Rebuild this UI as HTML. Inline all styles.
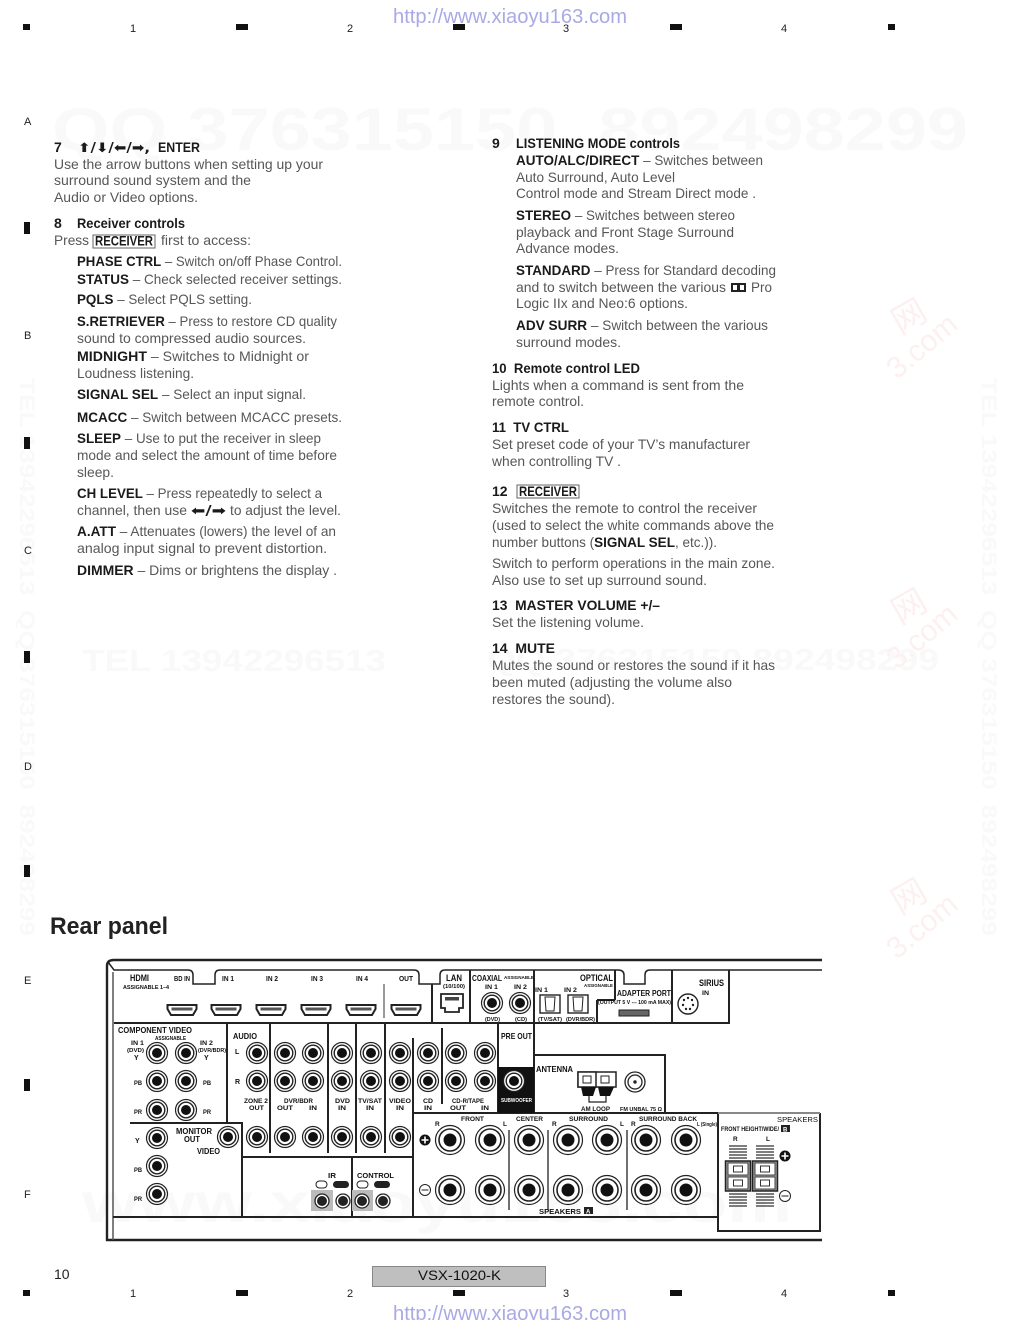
<!DOCTYPE html>
<html><head><meta charset="utf-8"><style>
html,body{margin:0;padding:0;background:#fff}
svg{display:block}
text{font-family:"Liberation Sans",sans-serif}
.t text{font-size:14px;fill:#575757}
.t tspan{font-weight:bold;fill:#1a1a1a}
.t .h{font-weight:bold;fill:#1a1a1a}
.w text{font-weight:bold;fill:#f9f9f9}
.r text{fill:#fdf0f0;font-weight:normal}
.m text{font-size:11px;fill:#222}
.p text{font-weight:bold;font-size:8px;fill:#111}
.l{stroke:#222;stroke-width:2;fill:none}
</style></head><body>
<svg xmlns="http://www.w3.org/2000/svg" width="1020" height="1320" viewBox="0 0 1020 1320">
<defs>
<g id="j"><circle r="10.500" fill="#fff" stroke="#222" stroke-width="1.200"/><circle r="7.800" fill="#fff" stroke="#222" stroke-width="1.400"/><circle r="5" fill="#111"/></g>
<g id="s"><circle r="14.500" fill="#fff" stroke="#222" stroke-width="1.200"/><circle r="11" fill="#fff" stroke="#222" stroke-width="1.600"/><circle r="6.500" fill="#111"/></g>
<g id="d"><circle r="7" fill="#fff" stroke="#222" stroke-width="1.300"/><circle r="5" fill="#222"/></g>
<g id="h"><path d="M-14.500-5H14.500V-1L11 5H-11L-14.500-1Z" fill="#fff" stroke="#222" stroke-width="2"/><rect x="-10.500" y="-2.500" width="21" height="3" fill="#555"/></g>
<g id="o"><rect x="-10" y="-9" width="20" height="18" fill="#fff" stroke="#222" stroke-width="1.400"/><path d="M-5-7H5L4 7H-4Z" fill="none" stroke="#222"/></g>
<g id="k">
<path d="M-9-30H9M-9-27H9M-9-24H9M-9-21H9M-9-18H9M-9 18H9M-9 21H9M-9 24H9M-9 27H9M-9 30H9" stroke="#333" stroke-width="1.300"/>
<rect x="-12.500" y="-15" width="25" height="30" fill="#999" stroke="#222" stroke-width="1.500"/>
<path d="M-10-13H10V-1H-10ZM-10 1H10V13H-10Z" fill="#fff" stroke="#444"/><rect x="-4.500" y="-10" width="9" height="6" fill="#fff" stroke="#333"/><rect x="-4.500" y="4" width="9" height="6" fill="#fff" stroke="#333"/></g>
</defs>

<g class="w">
<text x="52" y="150" font-size="60" textLength="916" lengthAdjust="spacingAndGlyphs">QQ 376315150&#160;&#160;892498299</text>
<text x="82" y="671" font-size="31" textLength="304" lengthAdjust="spacingAndGlyphs">TEL 13942296513</text>
<text x="487" y="670" font-size="31" textLength="452" lengthAdjust="spacingAndGlyphs">QQ 376315150&#160;892498299</text>
<text x="82" y="1222" font-size="56" textLength="710" lengthAdjust="spacingAndGlyphs">www.xiaoyu163.com</text>
<text transform="translate(982,378) rotate(90)" font-size="21" textLength="558" lengthAdjust="spacingAndGlyphs">TEL 13942296513&#160;&#160;QQ 376315150&#160;&#160;892498299</text>
<text transform="translate(20,378) rotate(90)" font-size="21" textLength="558" lengthAdjust="spacingAndGlyphs">TEL 13942296513&#160;&#160;QQ 376315150&#160;&#160;892498299</text>
</g>
<g class="r">
<g transform="translate(897,380) rotate(-40)"><text font-size="30" x="0" y="0">3.com</text></g><g transform="translate(900,335) rotate(-30)"><text font-size="34" x="0" y="0" style="font-family:'Noto Sans CJK SC',sans-serif">网</text></g>
<g transform="translate(897,670) rotate(-40)"><text font-size="30" x="0" y="0">3.com</text></g><g transform="translate(900,625) rotate(-30)"><text font-size="34" x="0" y="0" style="font-family:'Noto Sans CJK SC',sans-serif">网</text></g>
<g transform="translate(897,960) rotate(-40)"><text font-size="30" x="0" y="0">3.com</text></g><g transform="translate(900,915) rotate(-30)"><text font-size="34" x="0" y="0" style="font-family:'Noto Sans CJK SC',sans-serif">网</text></g>
</g>

<g fill="#111">
<rect x="23" y="24" width="7" height="6"/><rect x="236" y="24" width="12" height="6"/><rect x="453" y="24" width="12" height="6"/><rect x="670" y="24" width="12" height="6"/><rect x="888" y="24" width="7" height="6"/>
<rect x="23" y="1290" width="7" height="6"/><rect x="236" y="1290" width="12" height="6"/><rect x="453" y="1290" width="12" height="6"/><rect x="670" y="1290" width="12" height="6"/><rect x="888" y="1290" width="7" height="6"/>
<rect x="24" y="222" width="6" height="12"/><rect x="24" y="437" width="6" height="12"/><rect x="24" y="651" width="6" height="12"/><rect x="24" y="865" width="6" height="12"/><rect x="24" y="1079" width="6" height="12"/>
</g>
<g class="m">
<text x="130" y="32">1</text><text x="347" y="32">2</text><text x="563" y="32">3</text><text x="781" y="32">4</text>
<text x="130" y="1297">1</text><text x="347" y="1297">2</text><text x="563" y="1297">3</text><text x="781" y="1297">4</text>
<text x="24" y="125">A</text><text x="24" y="339">B</text><text x="24" y="554">C</text><text x="24" y="770">D</text><text x="24" y="984">E</text><text x="24" y="1198">F</text>
</g>
<text x="393" y="23" font-size="20" fill="#a9a9e6" textLength="234" lengthAdjust="spacingAndGlyphs">http://www.xiaoyu163.com</text>
<text x="393" y="1320" font-size="20" fill="#a9a9e6" textLength="234" lengthAdjust="spacingAndGlyphs">http://www.xiaoyu163.com</text>

<g class="t">
<text x="54" y="152" class="h">7</text>
<text x="78" y="152" class="h" style="font-family:'DejaVu Sans',sans-serif;font-size:13px" textLength="72" lengthAdjust="spacingAndGlyphs">⬆/⬇/⬅/➡,</text>
<text x="158" y="152" class="h" textLength="42" lengthAdjust="spacingAndGlyphs">ENTER</text>
<text x="54" y="169" textLength="269" lengthAdjust="spacingAndGlyphs">Use the arrow buttons when setting up your</text>
<text x="54" y="185" textLength="197" lengthAdjust="spacingAndGlyphs">surround sound system and the</text>
<text x="54" y="202" textLength="144" lengthAdjust="spacingAndGlyphs">Audio or Video options.</text>
<text x="54" y="228" class="h">8</text>
<text x="77" y="228" class="h" textLength="108" lengthAdjust="spacingAndGlyphs">Receiver controls</text>
<text x="54" y="245" textLength="35" lengthAdjust="spacingAndGlyphs">Press</text>
<rect x="93" y="235" width="62" height="13" fill="#fff" stroke="#666"/>
<text x="95" y="245.500" class="h" textLength="58" lengthAdjust="spacingAndGlyphs">RECEIVER</text>
<text x="161" y="245" textLength="90" lengthAdjust="spacingAndGlyphs">first to access:</text>

<text x="77" y="266" textLength="265" lengthAdjust="spacingAndGlyphs"><tspan>PHASE CTRL</tspan> – Switch on/off Phase Control.</text>
<text x="77" y="284" textLength="265" lengthAdjust="spacingAndGlyphs"><tspan>STATUS</tspan> – Check selected receiver settings.</text>
<text x="77" y="304" textLength="175" lengthAdjust="spacingAndGlyphs"><tspan>PQLS</tspan> – Select PQLS setting.</text>
<text x="77" y="326" textLength="260" lengthAdjust="spacingAndGlyphs"><tspan>S.RETRIEVER</tspan> – Press to restore CD quality</text>
<text x="77" y="343" textLength="229" lengthAdjust="spacingAndGlyphs">sound to compressed audio sources.</text>
<text x="77" y="361" textLength="232" lengthAdjust="spacingAndGlyphs"><tspan>MIDNIGHT</tspan> – Switches to Midnight or</text>
<text x="77" y="378" textLength="117" lengthAdjust="spacingAndGlyphs">Loudness listening.</text>
<text x="77" y="399" textLength="229" lengthAdjust="spacingAndGlyphs"><tspan>SIGNAL SEL</tspan> – Select an input signal.</text>
<text x="77" y="422" textLength="265" lengthAdjust="spacingAndGlyphs"><tspan>MCACC</tspan> – Switch between MCACC presets.</text>
<text x="77" y="443" textLength="244" lengthAdjust="spacingAndGlyphs"><tspan>SLEEP</tspan> – Use to put the receiver in sleep</text>
<text x="77" y="460" textLength="260" lengthAdjust="spacingAndGlyphs">mode and select the amount of time before</text>
<text x="77" y="477" textLength="37" lengthAdjust="spacingAndGlyphs">sleep.</text>
<text x="77" y="498" textLength="245" lengthAdjust="spacingAndGlyphs"><tspan>CH LEVEL</tspan> – Press repeatedly to select a</text>
<text x="77" y="515" textLength="110" lengthAdjust="spacingAndGlyphs">channel, then use</text>
<text x="191" y="515" class="h" style="font-family:'DejaVu Sans',sans-serif;font-size:13px" textLength="35" lengthAdjust="spacingAndGlyphs">⬅/➡</text>
<text x="230" y="515" textLength="111" lengthAdjust="spacingAndGlyphs">to adjust the level.</text>
<text x="77" y="536" textLength="259" lengthAdjust="spacingAndGlyphs"><tspan>A.ATT</tspan> – Attenuates (lowers) the level of an</text>
<text x="77" y="553" textLength="250" lengthAdjust="spacingAndGlyphs">analog input signal to prevent distortion.</text>
<text x="77" y="575" textLength="260" lengthAdjust="spacingAndGlyphs"><tspan>DIMMER</tspan> – Dims or brightens the display .</text>

<text x="492" y="148" class="h">9</text>
<text x="516" y="148" class="h" textLength="164" lengthAdjust="spacingAndGlyphs">LISTENING MODE controls</text>
<text x="516" y="165" textLength="247" lengthAdjust="spacingAndGlyphs"><tspan>AUTO/ALC/DIRECT</tspan> – Switches between</text>
<text x="516" y="182" textLength="159" lengthAdjust="spacingAndGlyphs">Auto Surround, Auto Level</text>
<text x="516" y="198" textLength="240" lengthAdjust="spacingAndGlyphs">Control mode and Stream Direct mode .</text>
<text x="516" y="220" textLength="219" lengthAdjust="spacingAndGlyphs"><tspan>STEREO</tspan> – Switches between stereo</text>
<text x="516" y="237" textLength="218" lengthAdjust="spacingAndGlyphs">playback and Front Stage Surround</text>
<text x="516" y="253" textLength="103" lengthAdjust="spacingAndGlyphs">Advance modes.</text>
<text x="516" y="275" textLength="260" lengthAdjust="spacingAndGlyphs"><tspan>STANDARD</tspan> – Press for Standard decoding</text>
<text x="516" y="292" textLength="210" lengthAdjust="spacingAndGlyphs">and to switch between the various</text>
<rect x="731" y="283" width="15" height="9" fill="#222"/><rect x="733" y="285" width="4" height="5" fill="#fff"/><rect x="740" y="285" width="4" height="5" fill="#fff"/>
<text x="751" y="292" textLength="21" lengthAdjust="spacingAndGlyphs">Pro</text>
<text x="516" y="308" textLength="172" lengthAdjust="spacingAndGlyphs">Logic IIx and Neo:6 options.</text>
<text x="516" y="330" textLength="252" lengthAdjust="spacingAndGlyphs"><tspan>ADV SURR</tspan> – Switch between the various</text>
<text x="516" y="347" textLength="105" lengthAdjust="spacingAndGlyphs">surround modes.</text>
<text x="492" y="373" class="h" textLength="148" lengthAdjust="spacingAndGlyphs">10&#160;&#160;Remote control LED</text>
<text x="492" y="390" textLength="252" lengthAdjust="spacingAndGlyphs">Lights when a command is sent from the</text>
<text x="492" y="406" textLength="92" lengthAdjust="spacingAndGlyphs">remote control.</text>
<text x="492" y="432" class="h" textLength="77" lengthAdjust="spacingAndGlyphs">11&#160;&#160;TV CTRL</text>
<text x="492" y="449" textLength="258" lengthAdjust="spacingAndGlyphs">Set preset code of your TV’s manufacturer</text>
<text x="492" y="466" textLength="129" lengthAdjust="spacingAndGlyphs">when controlling TV .</text>
<text x="492" y="496" class="h">12</text>
<rect x="517" y="485" width="62" height="13" fill="#fff" stroke="#666"/>
<text x="519" y="496" class="h" textLength="58" lengthAdjust="spacingAndGlyphs">RECEIVER</text>
<text x="492" y="513" textLength="265" lengthAdjust="spacingAndGlyphs">Switches the remote to control the receiver</text>
<text x="492" y="530" textLength="282" lengthAdjust="spacingAndGlyphs">(used to select the white commands above the</text>
<text x="492" y="547" textLength="225" lengthAdjust="spacingAndGlyphs">number buttons (<tspan>SIGNAL SEL</tspan>, etc.)).</text>
<text x="492" y="568" textLength="283" lengthAdjust="spacingAndGlyphs">Switch to perform operations in the main zone.</text>
<text x="492" y="585" textLength="215" lengthAdjust="spacingAndGlyphs">Also use to set up surround sound.</text>
<text x="492" y="610" class="h" textLength="168" lengthAdjust="spacingAndGlyphs">13&#160;&#160;MASTER VOLUME +/–</text>
<text x="492" y="627" textLength="152" lengthAdjust="spacingAndGlyphs">Set the listening volume.</text>
<text x="492" y="653" class="h" textLength="63" lengthAdjust="spacingAndGlyphs">14&#160;&#160;MUTE</text>
<text x="492" y="670" textLength="283" lengthAdjust="spacingAndGlyphs">Mutes the sound or restores the sound if it has</text>
<text x="492" y="687" textLength="240" lengthAdjust="spacingAndGlyphs">been muted (adjusting the volume also</text>
<text x="492" y="704" textLength="123" lengthAdjust="spacingAndGlyphs">restores the sound).</text>
</g>

<text x="50" y="934" font-size="24" font-weight="bold" fill="#222" textLength="118" lengthAdjust="spacingAndGlyphs">Rear panel</text>

<!-- panel -->
<path d="M822 960H114Q107 960 107 966V1240H822" stroke="#222" stroke-width="2.400" fill="none"/>
<path class="l" d="M108 962L114 970H188Q193 970 193 975V984H215V975Q215 970 220 970H414Q419 970 419 975V984H440V975Q440 970 445 970H618Q624 970 624 975V984H645V975Q645 970 650 970H822" style="stroke-width:1.500"/>
<path class="l" style="stroke:#555;stroke-width:1.500" d="M113 972V1240"/>
<path class="l" d="M114 1023H730M432 984V1023M470 970V1023M534 970V1023M597 1000V1023M615 970V1000M597 1000H615M672 970V1023M729 970V1023"/>
<path d="M384 984V1018" stroke="#333" stroke-width="1"/>
<path class="l" d="M227 1023V1123M130 1123H242V1217M270 1023V1153M328 1023V1153M356 1023V1153M385 1023V1153M413 1038V1217M442 1028V1104M242 1157H413M352 1157V1217M413 1113H718M113 1217H718M498 1023V1113M534 1023V1113M534 1055H665V1113"/>
<rect x="498" y="1067" width="36" height="46" fill="#111"/>
<path d="M718 1113V1231H820V1113" class="l"/>
<path d="M718 1113H820" stroke="#888" stroke-width="2"/>
<path d="M509 1130V1210M548 1130V1210M627 1130V1210" stroke="#222" stroke-width="1.300"/>

<use href="#h" x="182" y="1010"/><use href="#h" x="226" y="1010"/><use href="#h" x="271" y="1010"/><use href="#h" x="316" y="1010"/><use href="#h" x="361" y="1010"/><use href="#h" x="406" y="1010"/>

<path d="M441 994H463V1008H459V1012H445V1008H441Z" fill="#fff" stroke="#222" stroke-width="1.800"/><rect x="445" y="997" width="14" height="3.500" fill="#444"/>
<use href="#j" x="492" y="1003"/><use href="#j" x="520" y="1003"/>
<use href="#o" x="550" y="1004"/><use href="#o" x="578" y="1004"/>
<rect x="619" y="1010" width="30" height="6" fill="#666" stroke="#222"/>
<circle cx="688" cy="1004" r="10" fill="#fff" stroke="#222" stroke-width="1.400"/>
<g fill="#222"><circle cx="684" cy="1000" r="1.200"/><circle cx="688" cy="998" r="1.200"/><circle cx="692" cy="1000" r="1.200"/><circle cx="683" cy="1005" r="1.200"/><circle cx="693" cy="1005" r="1.200"/><circle cx="686" cy="1009" r="1.200"/><circle cx="690" cy="1009" r="1.200"/></g>

<use href="#j" x="157" y="1053"/><use href="#j" x="186" y="1053"/><use href="#j" x="157" y="1081"/><use href="#j" x="186" y="1081"/><use href="#j" x="157" y="1110"/><use href="#j" x="186" y="1110"/>
<use href="#j" x="257" y="1053"/><use href="#j" x="285" y="1053"/><use href="#j" x="313" y="1053"/><use href="#j" x="342" y="1053"/><use href="#j" x="371" y="1053"/><use href="#j" x="400" y="1053"/><use href="#j" x="428" y="1053"/><use href="#j" x="456" y="1053"/><use href="#j" x="485" y="1053"/>
<use href="#j" x="257" y="1081"/><use href="#j" x="285" y="1081"/><use href="#j" x="313" y="1081"/><use href="#j" x="342" y="1081"/><use href="#j" x="371" y="1081"/><use href="#j" x="400" y="1081"/><use href="#j" x="428" y="1081"/><use href="#j" x="456" y="1081"/><use href="#j" x="485" y="1081"/>
<use href="#j" x="514" y="1081"/>
<use href="#j" x="157" y="1138"/><use href="#j" x="228" y="1137"/><use href="#j" x="257" y="1137"/><use href="#j" x="285" y="1137"/><use href="#j" x="313" y="1137"/><use href="#j" x="342" y="1137"/><use href="#j" x="371" y="1137"/><use href="#j" x="400" y="1137"/>
<use href="#j" x="157" y="1166"/><use href="#j" x="157" y="1194"/>

<rect x="311" y="1190" width="22" height="21" fill="#bbb"/><rect x="352" y="1190" width="21" height="21" fill="#bbb"/>
<use href="#d" x="322" y="1201"/><use href="#d" x="343" y="1201"/><use href="#d" x="362" y="1201"/><use href="#d" x="383" y="1201"/>
<g fill="#222">
<rect x="316" y="1181" width="11" height="7" rx="3.500" fill="#fff" stroke="#222"/><rect x="333" y="1181" width="16" height="7" rx="3.500"/>
<rect x="357" y="1181" width="11" height="7" rx="3.500" fill="#fff" stroke="#222"/><rect x="374" y="1181" width="16" height="7" rx="3.500"/>
</g>

<use href="#s" x="450" y="1140"/><use href="#s" x="490" y="1140"/><use href="#s" x="529" y="1140"/><use href="#s" x="568" y="1140"/><use href="#s" x="607" y="1140"/><use href="#s" x="646" y="1140"/><use href="#s" x="686" y="1140"/>
<use href="#s" x="450" y="1190"/><use href="#s" x="490" y="1190"/><use href="#s" x="529" y="1190"/><use href="#s" x="568" y="1190"/><use href="#s" x="607" y="1190"/><use href="#s" x="646" y="1190"/><use href="#s" x="686" y="1190"/>
<circle cx="425" cy="1140" r="5.500" fill="#111"/><path d="M421.500 1140H428.500M425 1136.500V1143.500" stroke="#fff" stroke-width="1.600"/>
<circle cx="425" cy="1190" r="5.500" fill="#fff" stroke="#222"/><path d="M421.500 1190H428.500" stroke="#222"/>
<circle cx="785" cy="1156" r="5.500" fill="#111"/><path d="M781.500 1156H788.500M785 1152.500V1159.500" stroke="#fff" stroke-width="1.600"/>
<circle cx="785" cy="1196" r="5.500" fill="#fff" stroke="#222"/><path d="M781.500 1196H788.500" stroke="#222"/>
<use href="#k" x="738" y="1176"/><use href="#k" x="765" y="1176"/>

<rect x="578" y="1072" width="38" height="15" fill="#fff" stroke="#222" stroke-width="1.500"/>
<rect x="578" y="1072" width="18" height="15" fill="#fff" stroke="#222" stroke-width="1.500"/>
<rect x="583" y="1076" width="8" height="7" fill="#fff" stroke="#222"/><rect x="601" y="1076" width="8" height="7" fill="#fff" stroke="#222"/>
<path d="M581 1087L583 1096H593L596 1087ZM598 1087L600 1096H610L614 1087Z" fill="#111"/>
<path d="M589 1096V1102H606V1096" stroke="#222" stroke-width="1.200" fill="none"/>
<circle cx="635" cy="1082" r="10" fill="#fff" stroke="#222" stroke-width="1.300"/><circle cx="635" cy="1082" r="7" fill="#fff" stroke="#222" stroke-width="1.300"/><circle cx="635" cy="1082" r="1.700" fill="#222"/>

<g class="p">
<text x="130" y="981" style="font-size:9px" textLength="19" lengthAdjust="spacingAndGlyphs">HDMI</text>
<text x="123" y="989" style="font-size:5px" textLength="46" lengthAdjust="spacingAndGlyphs">ASSIGNABLE 1–4</text>
<text x="174" y="981" style="font-size:7px" textLength="16" lengthAdjust="spacingAndGlyphs">BD IN</text>
<text x="222" y="981" style="font-size:7px" textLength="12" lengthAdjust="spacingAndGlyphs">IN 1</text>
<text x="266" y="981" style="font-size:7px" textLength="12" lengthAdjust="spacingAndGlyphs">IN 2</text>
<text x="311" y="981" style="font-size:7px" textLength="12" lengthAdjust="spacingAndGlyphs">IN 3</text>
<text x="356" y="981" style="font-size:7px" textLength="12" lengthAdjust="spacingAndGlyphs">IN 4</text>
<text x="399" y="981" style="font-size:7px" textLength="14" lengthAdjust="spacingAndGlyphs">OUT</text>
<text x="446" y="981" style="font-size:9px" textLength="16" lengthAdjust="spacingAndGlyphs">LAN</text>
<text x="443" y="988" style="font-size:5.500px" textLength="22" lengthAdjust="spacingAndGlyphs">(10/100)</text>
<text x="472" y="981" style="font-size:8px" textLength="30" lengthAdjust="spacingAndGlyphs">COAXIAL</text>
<text x="504" y="979" style="font-size:4.500px" textLength="30" lengthAdjust="spacingAndGlyphs">ASSIGNABLE</text>
<text x="485" y="989" style="font-size:6.500px" textLength="13" lengthAdjust="spacingAndGlyphs">IN 1</text>
<text x="514" y="989" style="font-size:6.500px" textLength="13" lengthAdjust="spacingAndGlyphs">IN 2</text>
<text x="485" y="1021" style="font-size:5.500px" textLength="15" lengthAdjust="spacingAndGlyphs">(DVD)</text>
<text x="515" y="1021" style="font-size:5.500px" textLength="12" lengthAdjust="spacingAndGlyphs">(CD)</text>
<text x="580" y="981" style="font-size:9px" textLength="33" lengthAdjust="spacingAndGlyphs">OPTICAL</text>
<text x="584" y="987" style="font-size:4.500px" textLength="29" lengthAdjust="spacingAndGlyphs">ASSIGNABLE</text>
<text x="535" y="992" style="font-size:6.500px" textLength="13" lengthAdjust="spacingAndGlyphs">IN 1</text>
<text x="564" y="992" style="font-size:6.500px" textLength="13" lengthAdjust="spacingAndGlyphs">IN 2</text>
<text x="538" y="1021" style="font-size:5.500px" textLength="24" lengthAdjust="spacingAndGlyphs">(TV/SAT)</text>
<text x="566" y="1021" style="font-size:5.500px" textLength="29" lengthAdjust="spacingAndGlyphs">(DVR/BDR)</text>
<text x="617" y="996" style="font-size:8px" textLength="54" lengthAdjust="spacingAndGlyphs">ADAPTER PORT</text>
<text x="598" y="1004" style="font-size:5px" textLength="73" lengthAdjust="spacingAndGlyphs">(OUTPUT 5 V --- 100 mA MAX)</text>
<text x="699" y="986" style="font-size:9px" textLength="25" lengthAdjust="spacingAndGlyphs">SIRIUS</text>
<text x="702" y="995" style="font-size:6px" textLength="7" lengthAdjust="spacingAndGlyphs">IN</text>

<text x="118" y="1033" style="font-size:8.500px" textLength="74" lengthAdjust="spacingAndGlyphs">COMPONENT VIDEO</text>
<text x="155" y="1040" style="font-size:5px" textLength="31" lengthAdjust="spacingAndGlyphs">ASSIGNABLE</text>
<text x="131" y="1045" style="font-size:6.500px" textLength="13" lengthAdjust="spacingAndGlyphs">IN 1</text>
<text x="127" y="1052" style="font-size:5.500px" textLength="17" lengthAdjust="spacingAndGlyphs">(DVD)</text>
<text x="134" y="1060" style="font-size:7px">Y</text>
<text x="200" y="1045" style="font-size:6.500px" textLength="13" lengthAdjust="spacingAndGlyphs">IN 2</text>
<text x="198" y="1052" style="font-size:5.500px" textLength="28" lengthAdjust="spacingAndGlyphs">(DVR/BDR)</text>
<text x="204" y="1060" style="font-size:7px">Y</text>
<text x="134" y="1085" style="font-size:6px" textLength="8" lengthAdjust="spacingAndGlyphs">PB</text><text x="203" y="1085" style="font-size:6px" textLength="8" lengthAdjust="spacingAndGlyphs">PB</text>
<text x="134" y="1114" style="font-size:6px" textLength="8" lengthAdjust="spacingAndGlyphs">PR</text><text x="203" y="1114" style="font-size:6px" textLength="8" lengthAdjust="spacingAndGlyphs">PR</text>
<text x="135" y="1143" style="font-size:7px">Y</text>
<text x="134" y="1172" style="font-size:6px" textLength="8" lengthAdjust="spacingAndGlyphs">PB</text><text x="134" y="1201" style="font-size:6px" textLength="8" lengthAdjust="spacingAndGlyphs">PR</text>
<text x="176" y="1134" style="font-size:8px" textLength="36" lengthAdjust="spacingAndGlyphs">MONITOR</text>
<text x="184" y="1142" style="font-size:8px" textLength="16" lengthAdjust="spacingAndGlyphs">OUT</text>
<text x="197" y="1154" style="font-size:8px" textLength="23" lengthAdjust="spacingAndGlyphs">VIDEO</text>
<text x="233" y="1039" style="font-size:8.500px" textLength="24" lengthAdjust="spacingAndGlyphs">AUDIO</text>
<text x="235" y="1054" style="font-size:7px">L</text><text x="235" y="1084" style="font-size:7px">R</text>
<text x="244" y="1103" style="font-size:6.500px" textLength="24" lengthAdjust="spacingAndGlyphs">ZONE 2</text>
<text x="249" y="1110" style="font-size:6.500px" textLength="15" lengthAdjust="spacingAndGlyphs">OUT</text>
<text x="284" y="1103" style="font-size:6.500px" textLength="29" lengthAdjust="spacingAndGlyphs">DVR/BDR</text>
<text x="277" y="1110" style="font-size:6.500px" textLength="16" lengthAdjust="spacingAndGlyphs">OUT</text><text x="309" y="1110" style="font-size:6.500px" textLength="8" lengthAdjust="spacingAndGlyphs">IN</text>
<text x="335" y="1103" style="font-size:6.500px" textLength="15" lengthAdjust="spacingAndGlyphs">DVD</text><text x="338" y="1110" style="font-size:6.500px" textLength="8" lengthAdjust="spacingAndGlyphs">IN</text>
<text x="358" y="1103" style="font-size:6.500px" textLength="24" lengthAdjust="spacingAndGlyphs">TV/SAT</text><text x="366" y="1110" style="font-size:6.500px" textLength="8" lengthAdjust="spacingAndGlyphs">IN</text>
<text x="389" y="1103" style="font-size:6.500px" textLength="22" lengthAdjust="spacingAndGlyphs">VIDEO</text><text x="396" y="1110" style="font-size:6.500px" textLength="8" lengthAdjust="spacingAndGlyphs">IN</text>
<text x="423" y="1103" style="font-size:6.500px" textLength="10" lengthAdjust="spacingAndGlyphs">CD</text><text x="424" y="1110" style="font-size:6.500px" textLength="8" lengthAdjust="spacingAndGlyphs">IN</text>
<text x="452" y="1103" style="font-size:6.500px" textLength="32" lengthAdjust="spacingAndGlyphs">CD-R/TAPE</text>
<text x="450" y="1110" style="font-size:6.500px" textLength="16" lengthAdjust="spacingAndGlyphs">OUT</text><text x="481" y="1110" style="font-size:6.500px" textLength="8" lengthAdjust="spacingAndGlyphs">IN</text>
<text x="501" y="1039" style="font-size:8.500px" textLength="31" lengthAdjust="spacingAndGlyphs">PRE OUT</text>
<text x="501" y="1102" style="font-size:5px;fill:#fff" textLength="31" lengthAdjust="spacingAndGlyphs">SUBWOOFER</text>
<text x="536" y="1072" style="font-size:8px" textLength="37" lengthAdjust="spacingAndGlyphs">ANTENNA</text>
<text x="581" y="1111" style="font-size:6px" textLength="29" lengthAdjust="spacingAndGlyphs">AM LOOP</text>
<text x="620" y="1111" style="font-size:5.500px" textLength="42" lengthAdjust="spacingAndGlyphs">FM UNBAL 75 Ω</text>
<text x="328" y="1178" style="font-size:7.500px" textLength="8" lengthAdjust="spacingAndGlyphs">IR</text>
<text x="357" y="1178" style="font-size:7.500px" textLength="37" lengthAdjust="spacingAndGlyphs">CONTROL</text>
<text x="461" y="1121" style="font-size:6.500px" textLength="23" lengthAdjust="spacingAndGlyphs">FRONT</text>
<text x="516" y="1121" style="font-size:6.500px" textLength="27" lengthAdjust="spacingAndGlyphs">CENTER</text>
<text x="569" y="1121" style="font-size:6.500px" textLength="39" lengthAdjust="spacingAndGlyphs">SURROUND</text>
<text x="639" y="1121" style="font-size:6.500px" textLength="58" lengthAdjust="spacingAndGlyphs">SURROUND BACK</text>
<text x="435" y="1126" style="font-size:6.500px">R</text><text x="503" y="1126" style="font-size:6.500px">L</text><text x="552" y="1126" style="font-size:6.500px">R</text><text x="620" y="1126" style="font-size:6.500px">L</text><text x="631" y="1126" style="font-size:6.500px">R</text>
<text x="697" y="1126" style="font-size:5px" textLength="20" lengthAdjust="spacingAndGlyphs">L (Single)</text>
<text x="539" y="1214" style="font-size:7.500px" textLength="42" lengthAdjust="spacingAndGlyphs">SPEAKERS</text>
<rect x="584" y="1207" width="9" height="7" fill="#222"/><text x="586" y="1213.500" style="font-size:6px;fill:#fff">A</text>
<text x="777" y="1122" style="font-size:7.500px;font-weight:normal" textLength="41" lengthAdjust="spacingAndGlyphs">SPEAKERS</text>
<text x="721" y="1131" style="font-size:6px" textLength="58" lengthAdjust="spacingAndGlyphs">FRONT HEIGHT/WIDE/</text>
<rect x="781" y="1125" width="9" height="7" fill="#222"/><text x="783" y="1131.500" style="font-size:6px;fill:#fff">B</text>
<text x="733" y="1141" style="font-size:6.500px">R</text><text x="766" y="1141" style="font-size:6.500px">L</text>
</g>

<text x="54" y="1279" font-size="14" fill="#222">10</text>
<rect x="372.500" y="1266.500" width="173" height="20" fill="#bfbfbf" stroke="#888"/>
<text x="418" y="1280" font-size="14" fill="#111" textLength="83" lengthAdjust="spacingAndGlyphs">VSX-1020-K</text>
</svg>
</body></html>
